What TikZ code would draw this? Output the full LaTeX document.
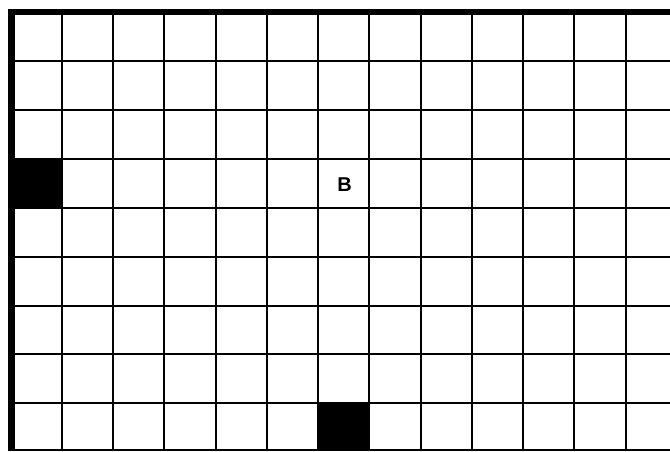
\documentclass[tikz,border=0pt]{standalone}
\usepackage{fontspec}
\setmainfont{Liberation Sans}
\newcommand{\celltextfont}{\fontsize{20pt}{22pt}\selectfont\bfseries}
\begin{document}
\begin{tikzpicture}[x=1pt,y=-1pt,
  thinline/.style={line width=2pt,draw=black},
  thickline/.style={line width=6.5pt,draw=black},
  blackcell/.style={fill=black},
  celltext/.style={inner sep=0pt}]
\useasboundingbox[fill=white] (0,0) rectangle (670,451);
% black cells
\fill[blackcell] (11.5,158.8) rectangle (61.7,207.7);
\fill[blackcell] (318.0,403.3) rectangle (369.3,451);
% vertical lines
\foreach \k in {1,...,12} {
  \draw[thinline] ({10.43+51.27*\k},12) -- ({10.43+51.27*\k},451);
}
% horizontal lines
\foreach \j in {1,...,8} {
  \draw[thinline] (11.5,{12.1+48.9*\j}) -- (670,{12.1+48.9*\j});
}
\draw[thinline] (11.5,450.2) -- (670,450.2);
% thick border
\draw[thickline] (11.5,451) -- (11.5,12) -- (670,12);
\node[celltext] (B) at (344.5,184.5) {\celltextfont B};
\end{tikzpicture}
\end{document}
